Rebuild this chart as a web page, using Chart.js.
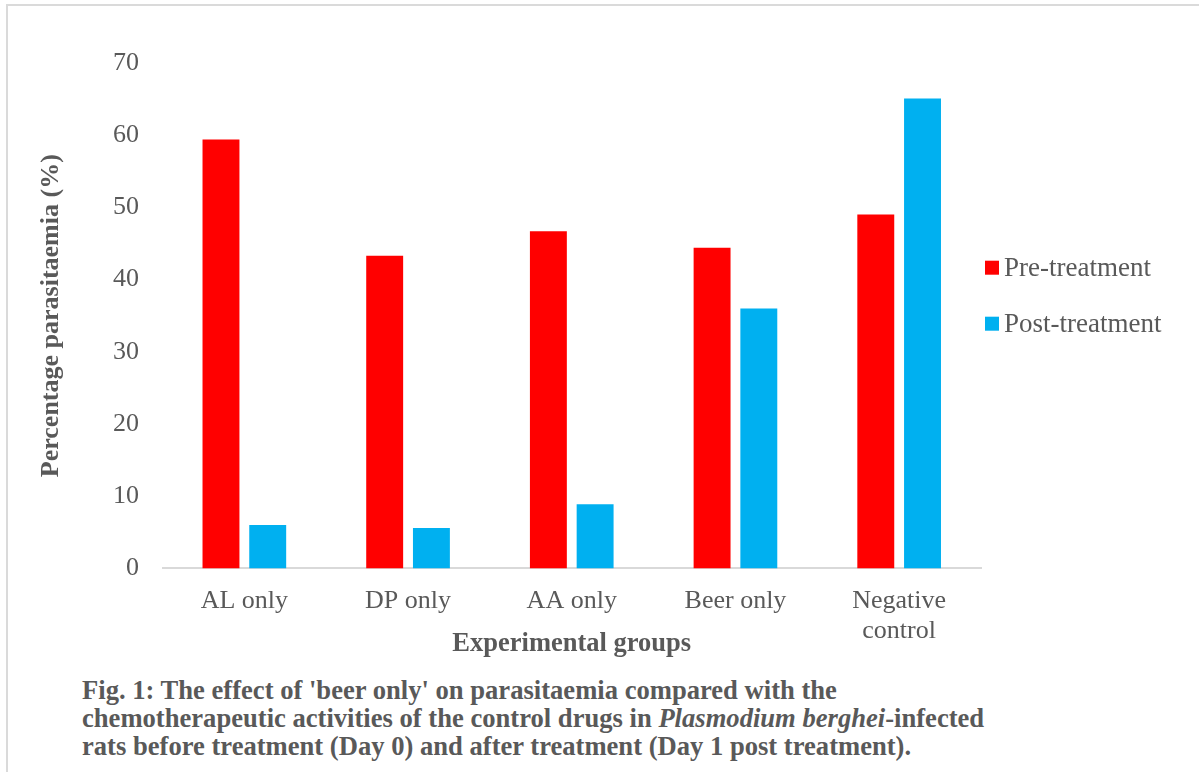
<!DOCTYPE html>
<html>
<head>
<meta charset="utf-8">
<script src="https://cdn.jsdelivr.net/npm/chart.js@4.4.1/dist/chart.umd.min.js"></script>
<style>
  body { margin: 0; background: #fff; }
  #frame {
    position: absolute; left: 6px; top: 4px; width: 1300px; height: 900px;
    border-top: 2px solid #dadada; border-left: 2px solid #dadada;
  }
  #chartBox { position: absolute; left: 0; top: 0; width: 1199px; height: 665px; }
  #caption {
    position: absolute; left: 82px; top: 676px;
    font: bold 26.6px "Liberation Serif", "Times New Roman", serif;
    line-height: 28px; color: #595959; white-space: nowrap;
  }
</style>
</head>
<body>
<div id="frame"></div>
<div id="chartBox"><canvas id="myChart"></canvas></div>
<div id="caption">
  Fig. 1: The effect of 'beer only' on parasitaemia compared with the<br>
  chemotherapeutic activities of the control drugs in <i>Plasmodium berghei</i>-infected<br>
  rats before treatment (Day 0) and after treatment (Day 1 post treatment).
</div>
<script>
const groups = ['AL only', 'DP only', 'AA only', 'Beer only', ['Negative', 'control']]
const preTreatment = [59.4, 43.3, 46.7, 44.4, 49.0]
const postTreatment = [6.0, 5.6, 8.9, 36.0, 65.1]
const seriesNames = ['Pre-treatment', 'Post-treatment']
const seriesColors = ['#ff0000', '#00b0f0']

Chart.defaults.font.family = '"Liberation Serif", "Times New Roman", serif'
Chart.defaults.color = '#595959'

// legend drawn beside the plot, Excel style
const sideLegend = {
  id: 'sideLegend',
  afterDraw(chart) {
    const {ctx, chartArea} = chart
    const midY = (chartArea.top + chartArea.bottom) / 2
    ctx.save()
    ctx.font = '27px "Liberation Serif", "Times New Roman", serif'
    ctx.textBaseline = 'middle'
    chart.data.datasets.forEach((ds, i) => {
      const y = midY - 48 + i * 56
      ctx.fillStyle = ds.backgroundColor
      ctx.fillRect(chartArea.right + 4, y - 7, 14, 14)
      ctx.fillStyle = '#595959'
      ctx.fillText(ds.label, chartArea.right + 23, y + 1)
    })
    ctx.restore()
  }
}

let ctx = document.getElementById('myChart').getContext('2d')
let myChart = new Chart(ctx, {
  type: 'bar',
  data: {
    labels: groups,
    datasets: [{
      label: seriesNames[0],
      data: preTreatment,
      backgroundColor: seriesColors[0],
      categoryPercentage: 0.571,
      barPercentage: 0.79
    }, {
      label: seriesNames[1],
      data: postTreatment,
      backgroundColor: seriesColors[1],
      categoryPercentage: 0.571,
      barPercentage: 0.79
    }]
  },
  options: {
    responsive: true,
    maintainAspectRatio: false,
    animation: false,
    layout: {
      padding: { left: 20, right: 218, top: 63, bottom: 0 }
    },
    plugins: {
      legend: { display: false },
      tooltip: { enabled: false }
    },
    scales: {
      x: {
        grid: { display: false, drawTicks: false },
        border: { display: true, color: '#d9d9d9', width: 2 },
        ticks: {
          padding: 18,
          font: { size: 26, lineHeight: 1.15 },
          color: '#595959',
          maxRotation: 0,
          autoSkip: false
        },
        title: {
          display: true,
          text: 'Experimental groups',
          font: { size: 26.5, weight: 'bold', lineHeight: 1.2 },
          color: '#595959',
          padding: { top: -36, bottom: 5 }
        }
      },
      y: {
        min: 0,
        max: 70,
        grid: { display: false, drawTicks: false },
        border: { display: false },
        ticks: {
          stepSize: 10,
          padding: 23.5,
          font: { size: 26 },
          color: '#595959'
        },
        title: {
          display: true,
          text: 'Percentage parasitaemia (%)',
          font: { size: 26, weight: 'bold', lineHeight: 1.2 },
          color: '#595959',
          padding: { top: 15.5, bottom: 22.8 }
        }
      }
    }
  },
  plugins: [sideLegend]
})
</script>
</body>
</html>
